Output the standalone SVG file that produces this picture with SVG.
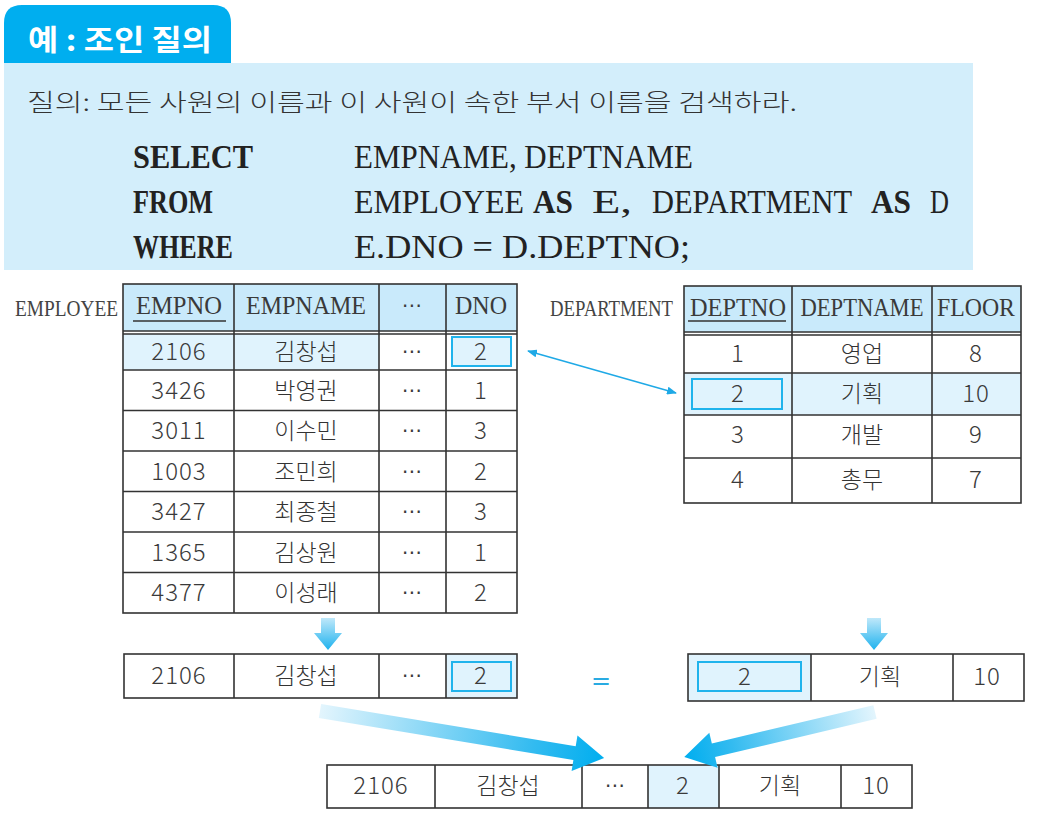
<svg xmlns="http://www.w3.org/2000/svg" width="1040" height="822" viewBox="0 0 1040 822">
<style>
.ln{stroke:#333;stroke-width:1.6;fill:none}
.hdr{fill:#c9eafb}
.hl{fill:#e0f3fd}
.box{fill:#e0f3fd;stroke:#1fb3ec;stroke-width:2}
.num{font-family:"Noto Sans CJK KR","Noto Sans",sans-serif;font-weight:300;font-size:24px;letter-spacing:1px;fill:#3a3a3a;text-anchor:middle}
.kr{font-family:"Noto Sans CJK KR","Noto Sans",sans-serif;font-weight:300;font-size:23px;fill:#333;text-anchor:middle}
.dots{font-family:"DejaVu Sans",sans-serif;font-size:20px;fill:#3a3a3a;text-anchor:middle}
.hd{font-family:"Liberation Serif",serif;font-size:26px;fill:#3a3a3a;text-anchor:middle}
.lbl{font-family:"Liberation Serif",serif;font-size:23px;fill:#444}
.sql{font-family:"Liberation Serif",serif;font-size:33px;fill:#222}
.b{font-weight:bold}
</style>
<defs>
<linearGradient id="gdown" x1="0" y1="0" x2="0" y2="1">
<stop offset="0" stop-color="#bfe8fa"/>
<stop offset="1" stop-color="#1eb2ee"/>
</linearGradient>
<linearGradient id="gbig" x1="0" y1="0" x2="1" y2="0">
<stop offset="0" stop-color="#e3f5fd"/>
<stop offset="0.75" stop-color="#33bbf0"/>
<stop offset="1" stop-color="#00aeef"/>
</linearGradient>
<marker id="ah" markerWidth="10" markerHeight="8" refX="9" refY="4" orient="auto-start-reverse" markerUnits="userSpaceOnUse">
<path d="M0,0 L10,4 L0,8 Z" fill="#1fa9e6"/>
</marker>
</defs>
<rect width="1040" height="822" fill="#fff"/>

<g id="title">
<path d="M4,63 V23 Q4,5 22,5 H213 Q231,5 231,23 V63 Z" fill="#00aeef"/>
<text x="28" y="51" font-family="Noto Sans CJK KR,Noto Sans,sans-serif" font-size="29" font-weight="bold" fill="#fff" textLength="184" lengthAdjust="spacingAndGlyphs">예 : 조인 질의</text>
</g>

<g id="query">
<rect x="4" y="63" width="969" height="207" fill="#d3eefb"/>
<text x="27" y="111" font-family="Noto Sans CJK KR,Noto Sans,sans-serif" font-weight="300" font-size="24" fill="#333" textLength="770" lengthAdjust="spacingAndGlyphs">질의: 모든 사원의 이름과 이 사원이 속한 부서 이름을 검색하라.</text>
<text class="sql b" x="133" y="168" textLength="120" lengthAdjust="spacingAndGlyphs">SELECT</text>
<text class="sql" x="354" y="168" textLength="339" lengthAdjust="spacingAndGlyphs">EMPNAME, DEPTNAME</text>
<text class="sql b" x="133" y="213" textLength="80" lengthAdjust="spacingAndGlyphs">FROM</text>
<text class="sql" x="354" y="213" textLength="170" lengthAdjust="spacingAndGlyphs">EMPLOYEE</text>
<text class="sql b" x="533" y="213" textLength="40" lengthAdjust="spacingAndGlyphs">AS</text>
<text class="sql" x="592" y="213" textLength="40" lengthAdjust="spacingAndGlyphs">E,</text>
<text class="sql" x="652" y="213" textLength="200" lengthAdjust="spacingAndGlyphs">DEPARTMENT</text>
<text class="sql b" x="871" y="213" textLength="40" lengthAdjust="spacingAndGlyphs">AS</text>
<text class="sql" x="930" y="213" textLength="19" lengthAdjust="spacingAndGlyphs">D</text>
<text class="sql b" x="133" y="258" textLength="100" lengthAdjust="spacingAndGlyphs">WHERE</text>
<text class="sql" x="354" y="258" textLength="336" lengthAdjust="spacingAndGlyphs">E.DNO = D.DEPTNO;</text>
</g>

<g id="employee-table">
<text class="lbl" x="15" y="316" textLength="103" lengthAdjust="spacingAndGlyphs">EMPLOYEE</text>
<rect class="hdr" x="123" y="284" width="394" height="47"/>
<rect class="hl" x="123" y="334" width="256" height="36"/>
<rect class="ln" x="123" y="284" width="394" height="329"/>
<path class="ln" d="M234,284V613 M379,284V613 M446,284V613 M123,331H517 M123,334H517 M123,370H517 M123,410.5H517 M123,451H517 M123,491.5H517 M123,532H517 M123,572.5H517"/>
<rect class="box" x="452" y="337" width="59" height="29"/>
<text class="hd" x="179" y="314" textLength="86" lengthAdjust="spacingAndGlyphs">EMPNO</text>
<path d="M133,321H226" stroke="#333" stroke-width="1.6"/>
<text class="hd" x="306" y="314" textLength="120" lengthAdjust="spacingAndGlyphs">EMPNAME</text>
<text class="dots" x="412" y="312">⋯</text>
<text class="hd" x="481" y="314" textLength="52" lengthAdjust="spacingAndGlyphs">DNO</text>
<g>
<text class="num" x="179" y="360">2106</text><text class="kr" x="306" y="360">김창섭</text><text class="dots" x="412" y="358">⋯</text><text class="num" x="481" y="360">2</text>
<text class="num" x="179" y="398.5">3426</text><text class="kr" x="306" y="398.5">박영권</text><text class="dots" x="412" y="396.5">⋯</text><text class="num" x="481" y="398.5">1</text>
<text class="num" x="179" y="439">3011</text><text class="kr" x="306" y="439">이수민</text><text class="dots" x="412" y="437">⋯</text><text class="num" x="481" y="439">3</text>
<text class="num" x="179" y="479.5">1003</text><text class="kr" x="306" y="479.5">조민희</text><text class="dots" x="412" y="477.5">⋯</text><text class="num" x="481" y="479.5">2</text>
<text class="num" x="179" y="520">3427</text><text class="kr" x="306" y="520">최종철</text><text class="dots" x="412" y="518">⋯</text><text class="num" x="481" y="520">3</text>
<text class="num" x="179" y="560.5">1365</text><text class="kr" x="306" y="560.5">김상원</text><text class="dots" x="412" y="558.5">⋯</text><text class="num" x="481" y="560.5">1</text>
<text class="num" x="179" y="601">4377</text><text class="kr" x="306" y="601">이성래</text><text class="dots" x="412" y="599">⋯</text><text class="num" x="481" y="601">2</text>
</g>
</g>

<g id="department-table">
<text class="lbl" x="550" y="316" textLength="123" lengthAdjust="spacingAndGlyphs">DEPARTMENT</text>
<rect class="hdr" x="684" y="286" width="337" height="46"/>
<rect class="hl" x="684" y="373" width="337" height="42"/>
<rect class="ln" x="684" y="286" width="337" height="217"/>
<path class="ln" d="M792,286V503 M932,286V503 M684,332H1021 M684,335H1021 M684,373H1021 M684,415H1021 M684,458H1021"/>
<rect class="box" x="692" y="379" width="90" height="30"/>
<text class="hd" x="738" y="316" textLength="96" lengthAdjust="spacingAndGlyphs">DEPTNO</text>
<path d="M688,321H786" stroke="#333" stroke-width="1.6"/>
<text class="hd" x="862" y="316" textLength="123" lengthAdjust="spacingAndGlyphs">DEPTNAME</text>
<text class="hd" x="976" y="316" textLength="78" lengthAdjust="spacingAndGlyphs">FLOOR</text>
<text class="num" x="738" y="362">1</text><text class="kr" x="862" y="362">영업</text><text class="num" x="976" y="362">8</text>
<text class="num" x="738" y="402">2</text><text class="kr" x="862" y="402">기획</text><text class="num" x="976" y="402">10</text>
<text class="num" x="738" y="443">3</text><text class="kr" x="862" y="443">개발</text><text class="num" x="976" y="443">9</text>
<text class="num" x="738" y="488">4</text><text class="kr" x="862" y="488">총무</text><text class="num" x="976" y="488">7</text>
</g>

<g id="employee-row">
<rect class="hl" x="446" y="654" width="71" height="44"/>
<rect class="ln" x="124" y="654" width="393" height="44"/>
<path class="ln" d="M234,654V698 M379,654V698 M446,654V698"/>
<rect class="box" x="452" y="662" width="59" height="29"/>
<text class="num" x="179" y="684">2106</text><text class="kr" x="306" y="684">김창섭</text><text class="dots" x="412" y="682">⋯</text><text class="num" x="481" y="684">2</text>
</g>

<g id="equals">
<text x="601" y="689" font-family="DejaVu Sans,sans-serif" font-size="24" fill="#29abe2" text-anchor="middle">=</text>
</g>

<g id="department-row">
<rect class="hl" x="688" y="654" width="123" height="47"/>
<rect class="ln" x="688" y="654" width="336" height="47"/>
<path class="ln" d="M811,654V701 M953,654V701"/>
<rect class="box" x="698" y="662" width="103" height="29"/>
<text class="num" x="745" y="685">2</text><text class="kr" x="880" y="685">기획</text><text class="num" x="987" y="685">10</text>
</g>

<g id="result-row">
<rect class="hl" x="648" y="765" width="71" height="43"/>
<rect class="ln" x="327" y="765" width="585" height="43"/>
<path class="ln" d="M435,765V808 M582,765V808 M648,765V808 M719,765V808 M841,765V808"/>
<text class="num" x="381" y="794">2106</text><text class="kr" x="508" y="794">김창섭</text><text class="dots" x="615" y="792">⋯</text><text class="num" x="683" y="794">2</text><text class="kr" x="780" y="794">기획</text><text class="num" x="876" y="794">10</text>
</g>

<g id="connectors">
<line x1="528" y1="351" x2="676" y2="393" stroke="#1fa9e6" stroke-width="1.5" marker-start="url(#ah)" marker-end="url(#ah)"/>
<path d="M321,618 H335 V633 H342 L328,650 L314,633 H321 Z" fill="url(#gdown)"/>
<path d="M867,618 H881 V633 H888 L874,650 L860,633 H867 Z" fill="url(#gdown)"/>
<g transform="translate(320,711) rotate(9.4)">
<path d="M0,-7 H258 V-18 L288,0 L258,18 V7 H0 Z" fill="url(#gbig)"/>
</g>
<g transform="translate(875,712) rotate(166.7)">
<path d="M0,-7 H166 V-18 L196,0 L166,18 V7 H0 Z" fill="url(#gbig)"/>
</g>
</g>
</svg>
